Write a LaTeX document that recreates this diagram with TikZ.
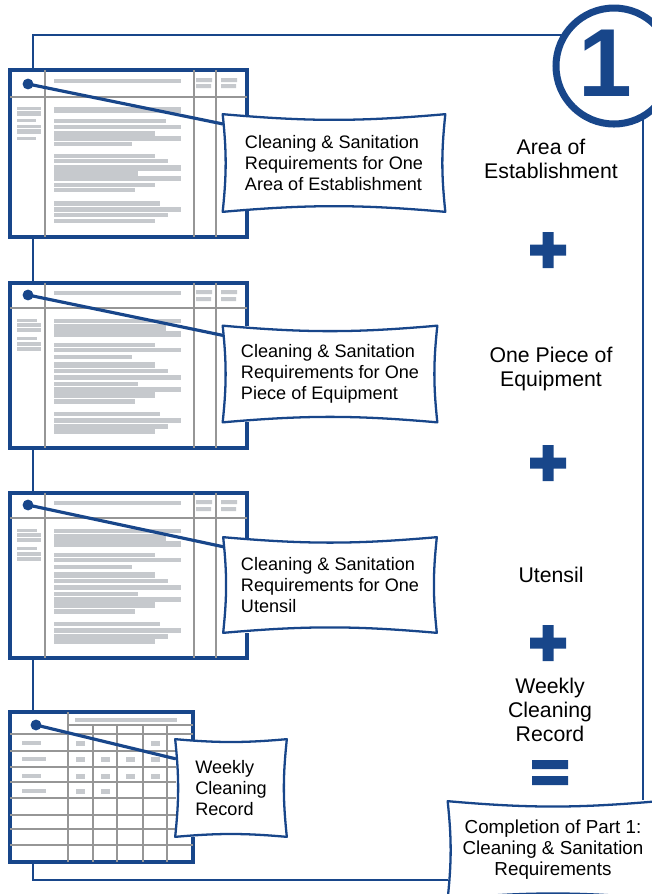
\documentclass[tikz,border=0pt]{standalone}
\usepackage{fontspec}
\setmainfont{Liberation Sans}
\usetikzlibrary{positioning, calc}
\definecolor{formblue}{RGB}{24,70,138}
\definecolor{barfill}{RGB}{198,201,205}
\definecolor{rulegray}{RGB}{150,150,150}
\pgfdeclarelayer{background}
\pgfsetlayers{background,main}
\tikzset{
    frameline/.style={formblue, line width=1.2pt},
    sheet/.style={draw=formblue, fill=white, line width=2.8pt},
    gridrule/.style={rulegray, line width=0.9pt},
    textbar/.style={fill=barfill},
    leader/.style={formblue, line width=1.8pt, line cap=round},
    dotmark/.style={circle, fill=formblue, inner sep=0pt, minimum size=6.2pt},
    bubble/.style={fill=white, inner sep=0pt, align=left,
                   font=\fontsize{10.3}{11.9}\selectfont},
    wavy/.style={draw=formblue, line width=1.3pt, line join=round},
    sidenote/.style={align=center, font=\fontsize{12.1}{13.6}\selectfont},
    numring/.style={circle, draw=formblue, fill=white, line width=4pt,
                    minimum size=2.32cm, inner sep=0pt},
    digit/.style={text=formblue, font=\fontsize{55}{55}\selectfont\bfseries, inner sep=0pt},
    plusmark/.pic={\fill[formblue] (-18,-5.5) rectangle (18,5.5) (-5.5,-18) rectangle (5.5,18);},
    eqmark/.pic={\fill[formblue] (-18,-10) rectangle (18,-1) (-18,6) rectangle (18,15);},
}
% concave border round a bubble
\newcommand{\pillow}[1]{%
    \draw[wavy] (#1.north west) to[bend right=5] (#1.north east)
        to[bend right=6] (#1.south east) to[bend right=5] (#1.south west)
        to[bend right=6] cycle;}

\begin{document}
\begin{tikzpicture}[x=0.02cm, y=-0.02cm]
    \useasboundingbox (0,0) rectangle (652,894);

    % step number
    \node[numring] (num) at (614,66) {};
    \node[digit] (one) at (605,63) {1};

    % first form: area of establishment
    \begin{scope}[shift={(10,70)}]
        \draw[sheet] (0,0) rectangle (237,167);
        \foreach \x in {35,184,206} \draw[gridrule] (\x,0) -- (\x,167);
        \draw[gridrule] (0,27) -- (237,27);
        \fill[textbar] (44,9) rectangle (171,13);
        \foreach \x in {186,211} \fill[textbar] (\x,8) rectangle (\x+16,12) (\x,14) rectangle (\x+15,18);
        \foreach \y/\e/\h in {37/171/6, 49/156/4, 55/171/4, 61/145/6, 66/171/5, 72/122/4,
                              84/145/4, 89/158/4, 95/171/6, 101/128/5, 106/171/5, 113/145/4,
                              118/125/4, 131/150/5, 137/171/5, 143/158/4, 149/145/4}
            \fill[textbar] (44,\y) rectangle (\e,\y+\h);
        \foreach \y/\e/\h in {37/31/3, 41/31/5, 49/26/3, 55/31/3, 59/31/5, 67/26/3}
            \fill[textbar] (7,\y) rectangle (\e,\y+\h);
        \node[dotmark] (dot1) at (18,14) {};
    \end{scope}

    % second and third forms
    \foreach \t/\n in {283/2, 493/3}{
        \begin{scope}[shift={(10,\t)}]
            \draw[sheet] (0,0) rectangle (237,165);
            \foreach \x in {35,184,206} \draw[gridrule] (\x,0) -- (\x,165);
            \draw[gridrule] (0,25) -- (237,25);
            \fill[textbar] (44,8) rectangle (171,12);
            \foreach \x in {186,211} \fill[textbar] (\x,7) rectangle (\x+16,11) (\x,14) rectangle (\x+15,18);
            \foreach \y/\e/\h in {36/171/4, 41/156/7, 48/171/6, 60/145/4, 65/171/4, 72/122/4,
                                  79/145/6, 86/158/4, 92/171/5, 99/128/4, 104/171/5, 109/145/6,
                                  116/125/5, 129/150/4, 135/171/5, 141/158/5, 146/145/5}
                \fill[textbar] (44,\y) rectangle (\e,\y+\h);
            \foreach \y/\e/\h in {36/27/3, 40/31/4, 45/31/4, 54/27/3, 59/31/4, 64/31/4}
                \fill[textbar] (7,\y) rectangle (\e,\y+\h);
            \node[dotmark] (dot\n) at (18,12) {};
        \end{scope}
    }

    % weekly record form
    \begin{scope}[shift={(10,712)}]
        \draw[sheet] (0,0) rectangle (183,150);
        \draw[gridrule] (58,0) -- (58,150) (58,13) -- (183,13);
        \foreach \x in {83,107,133,157} \draw[gridrule] (\x,13) -- (\x,150);
        \foreach \y in {22,39,55,70,86,103,117,133} \draw[gridrule] (0,\y) -- (183,\y);
        \fill[textbar] (65,5.5) rectangle (167,9.5);
        \foreach \y/\e in {31/31, 47/36, 64/31, 79/36}
            \fill[textbar] (12,\y-2) rectangle (\e,\y+2);
        \foreach \x/\y in {70/31, 145/31, 70/47, 95/47, 120/47, 145/47,
                           70/64, 95/64, 120/64, 145/64, 170/64, 70/79, 95/79}
            \fill[textbar] (\x-4.5,\y-2.5) rectangle (\x+4.5,\y+2.5);
        \node[dotmark] (dot4) at (26,13) {};
    \end{scope}

    % call-outs
    \node[bubble, minimum width=4.44cm, minimum height=1.94cm] (c1) at (334,163)
        {Cleaning \& Sanitation\\Requirements for One\\Area of Establishment};
    \node[bubble, minimum width=4.28cm, minimum height=1.92cm] (c2) at (330,374)
        {Cleaning \& Sanitation\\Requirements for One\\Piece of Equipment};
    \node[bubble, minimum width=4.26cm, minimum height=1.90cm] (c3) at (330,585)
        {Cleaning \& Sanitation\\Requirements for One\\Utensil};
    \node[bubble, minimum width=2.22cm, minimum height=1.94cm] (c4) at (231,788)
        {Weekly\\Cleaning\\Record};
    \foreach \n/\f in {1/0.1, 2/0.1, 3/0.1, 4/0.2}{
        \draw[leader] (dot\n.center) -- ($(c\n.north west)!\f!(c\n.south west)$);
        \pillow{c\n}
    }

    % right column
    \node[sidenote] (cap1) at (551,159) {Area of\\Establishment};
    \pic at (548,250) {plusmark};
    \node[sidenote] (cap2) at (551,369) {One Piece of\\Equipment};
    \pic at (548,463) {plusmark};
    \node[sidenote] (cap3) at (551,575) {Utensil};
    \pic at (548,643) {plusmark};
    \node[sidenote] (cap4) at (550,710) {Weekly\\Cleaning\\Record};
    \pic at (550,770) {eqmark};
    \node[bubble, align=center, font=\fontsize{10.7}{11.9}\selectfont,
          minimum width=4.2cm, minimum height=1.94cm] (total) at (553,850)
        {Completion of Part 1:\\Cleaning \& Sanitation\\Requirements};
    \pillow{total}

    % frame joining the steps
    \begin{pgfonlayer}{background}
        \coordinate (tl) at (33,35);
        \coordinate (bl) at (33,880);
        \coordinate (rb) at (643,800);
        \draw[frameline] (num.center |- tl) -- (tl) -- (bl) -- (total.west |- bl);
        \draw[frameline] (num.center -| rb) -- (rb);
    \end{pgfonlayer}
\end{tikzpicture}
\end{document}
